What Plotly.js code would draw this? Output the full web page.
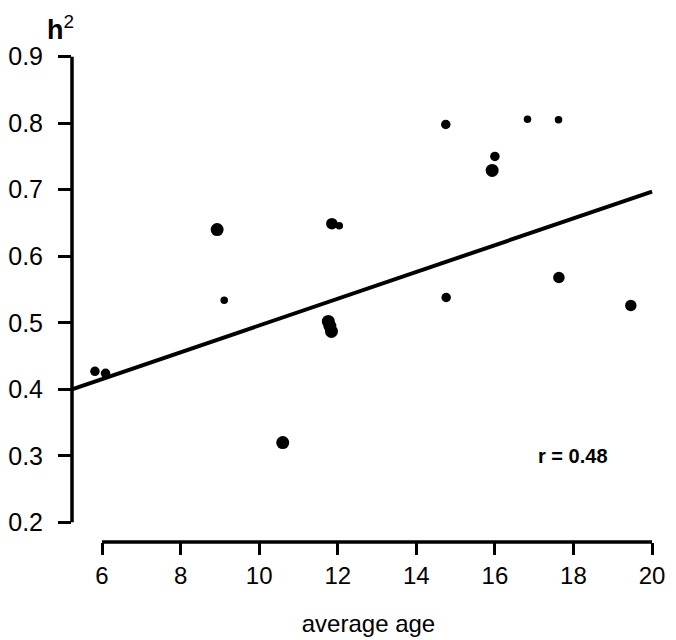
<!DOCTYPE html>
<html>
<head>
<meta charset="utf-8">
<script src="https://cdn.plot.ly/plotly-3.0.1.min.js"></script>
<style>html,body{margin:0;padding:0;background:#fff;}</style>
</head>
<body>
<div id="chart" style="width:676px;height:640px;"></div>
<script>
// ---- data ----
const averageAge = [5.82, 6.09, 8.93, 9.11, 10.60, 11.76, 11.80, 11.84, 11.85, 12.04, 14.75, 14.76, 15.93, 16.00, 16.83, 17.62, 17.63, 19.46];
const heritability = [0.427, 0.424, 0.640, 0.534, 0.320, 0.502, 0.495, 0.487, 0.649, 0.646, 0.798, 0.538, 0.729, 0.750, 0.806, 0.805, 0.568, 0.526];
const sizeClass = [2, 2, 3, 1, 3, 3, 3, 3, 2.5, 1, 2, 2, 3, 2, 1, 1, 2.5, 2.5];
const fitIntercept = 0.2947;
const fitSlope = 0.02012;
const xTicks = [6, 8, 10, 12, 14, 16, 18, 20];
const yTicks = [0.2, 0.3, 0.4, 0.5, 0.6, 0.7, 0.8, 0.9];
const yTickText = ["0.2", "0.3", "0.4", "0.5", "0.6", "0.7", "0.8", "0.9"];
const correlationLabel = "r = 0.48";

// ---- drawing ----
const xRange = [5.236, 20.33];
const yRange = [0.1705, 0.928];
const font = "Liberation Sans, Arial, Helvetica, sans-serif";
const sizePx = sizeClass.map(c => c === 1 ? 7.5 : c === 2 ? 9.5 : c === 2.5 ? 11.5 : 13);
const fitX = [xRange[0], xTicks[xTicks.length - 1]];
const fitY = fitX.map(x => fitIntercept + fitSlope * x);

const traces = [
  {x: averageAge, y: heritability, type: 'scatter', mode: 'markers',
   marker: {color: '#000', size: sizePx, opacity: 1, line: {width: 0}}, opacity: 1, hoverinfo: 'x+y'},
  {x: fitX, y: fitY, type: 'scatter', mode: 'lines',
   line: {color: '#000', width: 4}, hoverinfo: 'skip'}
];

const layout = {
  width: 676, height: 640,
  margin: {l: 72, r: 11, t: 38, b: 98},
  paper_bgcolor: '#fff', plot_bgcolor: '#fff',
  showlegend: false,
  font: {family: font, color: '#000', size: 24},
  xaxis: {
    range: xRange, tickmode: 'array', tickvals: xTicks,
    ticks: 'outside', ticklen: 12, tickwidth: 3, tickcolor: '#000',
    showgrid: false, zeroline: false, showline: false,
    tickfont: {family: font, size: 24, color: '#000'},
    title: {text: 'average age', font: {family: font, size: 24, color: '#000'}, standoff: 27}
  },
  yaxis: {
    range: yRange, tickmode: 'array', tickvals: yTicks, ticktext: yTickText,
    ticks: 'outside', ticklen: 13, tickwidth: 3, tickcolor: '#000',
    ticklabelstandoff: 10,
    showgrid: false, zeroline: false, showline: false,
    tickfont: {family: font, size: 25, color: '#000'}
  },
  shapes: [
    {type: 'line', xref: 'paper', yref: 'y', x0: 0, x1: 0, y0: yTicks[0], y1: yTicks[yTicks.length - 1],
     line: {color: '#000', width: 3.5}},
    {type: 'line', xref: 'x', yref: 'paper', x0: xTicks[0], x1: xTicks[xTicks.length - 1], y0: 0, y1: 0,
     line: {color: '#000', width: 3.5}}
  ],
  annotations: [
    {xref: 'paper', yref: 'paper', x: -0.046, y: 1.02, xanchor: 'left', yanchor: 'middle',
     text: '<b>h</b><sup>2</sup>', showarrow: false, font: {family: font, size: 27, color: '#000'}},
    {xref: 'x', yref: 'y', x: 18, y: 0.30, xanchor: 'center', yanchor: 'middle',
     text: '<b>' + correlationLabel + '</b>', showarrow: false, font: {family: font, size: 20, color: '#000'}}
  ]
};

Plotly.newPlot('chart', traces, layout, {displayModeBar: false, staticPlot: true});
</script>
</body>
</html>
